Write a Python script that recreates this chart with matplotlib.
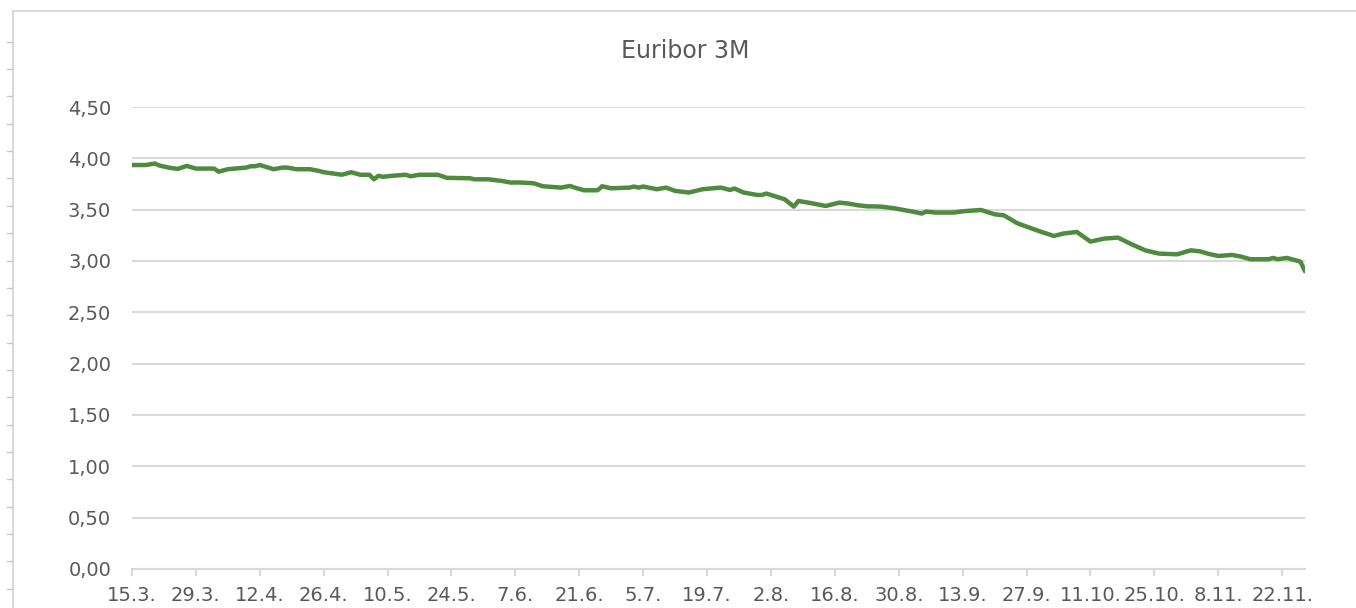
import datetime as dt
import matplotlib
matplotlib.use("Agg")
import matplotlib.pyplot as plt
import matplotlib.dates as mdates
from matplotlib.lines import Line2D
from matplotlib.ticker import FuncFormatter

# Euribor 3M, 2024
dates = [
    "2024-03-15", "2024-03-18", "2024-03-20", "2024-03-21", "2024-03-23", "2024-03-25",
    "2024-03-27", "2024-03-29", "2024-04-02", "2024-04-03", "2024-04-05", "2024-04-09",
    "2024-04-10", "2024-04-11", "2024-04-12", "2024-04-15", "2024-04-17", "2024-04-18",
    "2024-04-20", "2024-04-23", "2024-04-25", "2024-04-26", "2024-04-30", "2024-05-02",
    "2024-05-04", "2024-05-06", "2024-05-07", "2024-05-08", "2024-05-09", "2024-05-11",
    "2024-05-14", "2024-05-15", "2024-05-17", "2024-05-21", "2024-05-23", "2024-05-28",
    "2024-05-29", "2024-06-01", "2024-06-04", "2024-06-06", "2024-06-08", "2024-06-11",
    "2024-06-13", "2024-06-17", "2024-06-19", "2024-06-20", "2024-06-22", "2024-06-25",
    "2024-06-26", "2024-06-28", "2024-07-02", "2024-07-03", "2024-07-04", "2024-07-05",
    "2024-07-08", "2024-07-10", "2024-07-12", "2024-07-15", "2024-07-18", "2024-07-22",
    "2024-07-24", "2024-07-25", "2024-07-27", "2024-07-30", "2024-07-31", "2024-08-01",
    "2024-08-05", "2024-08-07", "2024-08-08", "2024-08-11", "2024-08-14", "2024-08-17",
    "2024-08-19", "2024-08-21", "2024-08-23", "2024-08-26", "2024-08-29", "2024-08-31",
    "2024-09-02", "2024-09-03", "2024-09-04", "2024-09-05", "2024-09-07", "2024-09-11",
    "2024-09-13", "2024-09-17", "2024-09-20", "2024-09-22", "2024-09-25", "2024-09-30",
    "2024-10-03", "2024-10-05", "2024-10-08", "2024-10-11", "2024-10-14", "2024-10-17",
    "2024-10-20", "2024-10-23", "2024-10-26", "2024-10-30", "2024-11-02", "2024-11-04",
    "2024-11-06", "2024-11-08", "2024-11-11", "2024-11-13", "2024-11-15", "2024-11-19",
    "2024-11-20", "2024-11-21", "2024-11-23", "2024-11-26", "2024-11-27",
]
rates = [
    3.935, 3.935, 3.950, 3.930, 3.910, 3.897,
    3.926, 3.900, 3.900, 3.870, 3.894, 3.910,
    3.923, 3.923, 3.935, 3.894, 3.910, 3.910,
    3.894, 3.894, 3.877, 3.865, 3.840, 3.865,
    3.840, 3.840, 3.796, 3.830, 3.820, 3.830,
    3.840, 3.825, 3.840, 3.840, 3.810, 3.806,
    3.796, 3.796, 3.780, 3.764, 3.765, 3.757,
    3.728, 3.715, 3.731, 3.715, 3.689, 3.689,
    3.728, 3.708, 3.715, 3.725, 3.715, 3.725,
    3.699, 3.715, 3.683, 3.667, 3.699, 3.715,
    3.692, 3.706, 3.667, 3.643, 3.643, 3.657,
    3.601, 3.530, 3.585, 3.562, 3.536, 3.569,
    3.559, 3.543, 3.533, 3.530, 3.514, 3.497,
    3.481, 3.472, 3.462, 3.481, 3.472, 3.472,
    3.484, 3.497, 3.455, 3.445, 3.367, 3.287,
    3.244, 3.267, 3.283, 3.189, 3.218, 3.228,
    3.163, 3.104, 3.072, 3.065, 3.104, 3.094,
    3.068, 3.049, 3.059, 3.043, 3.017, 3.017,
    3.030, 3.017, 3.030, 2.994, 2.900,
]
x_start = "2024-03-15"
x_end = "2024-11-27"
tick_step_days = 14
y_ticks = [0, 0.5, 1.0, 1.5, 2.0, 2.5, 3.0, 3.5, 4.0, 4.5]

x = [dt.datetime.strptime(d, "%Y-%m-%d") for d in dates]
t0 = dt.datetime.strptime(x_start, "%Y-%m-%d")
t1 = dt.datetime.strptime(x_end, "%Y-%m-%d")

grey = "#595959"
grid = "#d9d9d9"

fig = plt.figure(figsize=(13.56, 6.08), dpi=100)
ax = fig.add_axes([132 / 1356, 39 / 608, (1305 - 132) / 1356, (569 - 107) / 608])

ax.plot(x, rates, color="#4f8a3f", lw=3.2, solid_joinstyle="round", solid_capstyle="round")

ax.set_xlim(t0, t1)
ax.set_ylim(0, 4.5)
ax.set_yticks(y_ticks)
ax.yaxis.set_major_formatter(FuncFormatter(lambda v, p: f"{v:.2f}".replace(".", ",")))
ticks = []
t = t0
while t <= t1:
    ticks.append(t)
    t += dt.timedelta(days=tick_step_days)
ax.set_xticks(ticks)
ax.xaxis.set_major_formatter(FuncFormatter(
    lambda v, p: "{}.{}.".format(mdates.num2date(v).day, mdates.num2date(v).month)))

ax.grid(axis="y", color=grid, lw=1.5)
ax.set_axisbelow(True)
for s in ["top", "right", "left"]:
    ax.spines[s].set_visible(False)
ax.spines["bottom"].set_color(grid)
ax.spines["bottom"].set_linewidth(1.5)
ax.tick_params(axis="y", length=0, pad=15, labelsize=14, labelcolor=grey,
               labelfontfamily="DejaVu Sans")
ax.tick_params(axis="x", length=5, width=1.5, color=grid, pad=7, labelsize=14,
               labelcolor=grey, labelfontfamily="DejaVu Sans")

fig.text(685 / 1356, 1 - 51 / 608, "Euribor 3M", ha="center", va="center",
         fontsize=17, color=grey, family="DejaVu Sans")

# chart frame (left and top edges) and ruler marks outside it
fig.add_artist(Line2D([13 / 1356, 13 / 1356], [0, 1 - 11 / 608], color=grid, lw=1.5))
fig.add_artist(Line2D([13 / 1356, 1], [1 - 11 / 608, 1 - 11 / 608], color=grid, lw=1.5))
yy = 41.7
while yy < 600:
    fig.add_artist(Line2D([7 / 1356, 12 / 1356], [1 - yy / 608, 1 - yy / 608],
                          color="#c8c8c8", lw=1))
    yy += 27.35

fig.savefig("out.png", dpi=100, facecolor="white")
